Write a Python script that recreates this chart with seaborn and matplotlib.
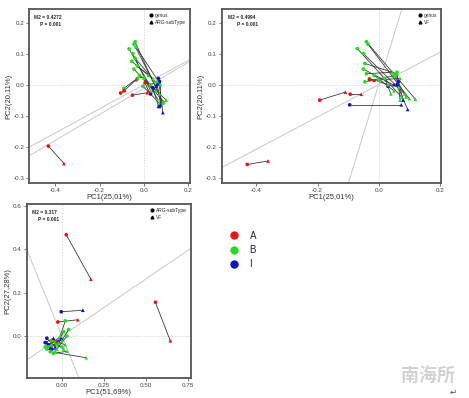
import numpy as np
import pandas as pd
import matplotlib
matplotlib.use("Agg")
import matplotlib.pyplot as plt
import seaborn as sns
from matplotlib.lines import Line2D

# ---------------- data ----------------
group_names = ["A", "B", "I"]
group_colors = {"A": "#ee1111", "B": "#22dd22", "I": "#1111cc"}

# panel 1: genus (circle) vs ARG-subType (triangle)
p1_x1 = [-0.067, -0.040, -0.045, -0.035, -0.050, -0.040, -0.055, -0.030, -0.045, -0.020, -0.030, 0.000, -0.090, -0.005, 0.030,
         0.060, 0.065, 0.040, 0.030, 0.070,
         -0.430, -0.090, -0.052, 0.005, -0.105]
p1_y1 = [0.115, 0.138, 0.130, 0.120, 0.100, 0.085, 0.075, 0.060, 0.050, 0.030, 0.020, 0.020, -0.012, -0.005, 0.000,
         0.000, 0.020, -0.010, -0.030, 0.010,
         -0.198, -0.020, -0.034, 0.006, -0.027]
p1_x2 = [0.060, 0.085, 0.070, 0.075, 0.030, 0.050, 0.020, 0.040, 0.090, 0.055, 0.000, 0.100, -0.030, 0.070, 0.060,
         0.075, 0.085, 0.065, 0.055, 0.070,
         -0.360, -0.035, 0.015, 0.020, -0.088]
p1_y2 = [-0.045, -0.060, -0.030, 0.000, -0.020, 0.010, 0.030, 0.020, -0.055, -0.020, 0.025, -0.050, 0.020, -0.060, 0.010,
         -0.065, -0.090, -0.070, -0.005, -0.070,
         -0.254, 0.016, -0.026, -0.020, -0.018]
p1_grp = ["B"] * 15 + ["I"] * 5 + ["A"] * 5

# panel 2: genus (circle) vs VF (triangle)
p2_x1 = [-0.040, -0.035, -0.070, -0.050, -0.045, -0.050, -0.045, -0.030, -0.015, 0.000, -0.040, 0.020, 0.060, 0.050,
         -0.095, 0.060, 0.065, 0.030,
         -0.193, -0.093, -0.430, -0.030]
p2_y1 = [0.138, 0.130, 0.116, 0.100, 0.068, 0.050, 0.009, 0.020, 0.030, 0.015, 0.035, 0.020, 0.040, 0.030,
         -0.065, 0.000, 0.010, -0.005,
         -0.050, -0.031, -0.257, 0.016]
p2_x2 = [0.120, 0.100, 0.075, 0.085, 0.060, 0.065, 0.055, 0.030, 0.050, 0.070, 0.045, 0.040, 0.070, 0.090,
         0.074, 0.095, 0.080, 0.050,
         -0.109, -0.057, -0.362, -0.015]
p2_y2 = [-0.047, -0.045, -0.040, -0.030, 0.035, -0.010, 0.030, 0.000, -0.020, 0.020, 0.040, -0.030, -0.050, -0.040,
         -0.065, -0.080, -0.050, 0.000,
         -0.024, -0.031, -0.246, 0.014]
p2_grp = ["B"] * 14 + ["I"] * 4 + ["A"] * 4

# panel 3: ARG-subType (circle) vs VF (triangle)
p3_x1 = [0.026, 0.558, -0.024, -0.020,
         -0.004, -0.090, -0.080, -0.060, -0.005, -0.100,
         -0.070, 0.020, 0.040, 0.010, -0.050, -0.080, -0.060, -0.090, 0.000, 0.030, -0.100, -0.040]
p3_y1 = [0.467, 0.156, 0.065, -0.030,
         0.112, -0.010, -0.040, -0.060, -0.015, -0.030,
         -0.072, 0.070, 0.030, 0.020, -0.080, -0.050, -0.020, -0.060, -0.050, 0.000, -0.050, -0.030]
p3_x2 = [0.173, 0.647, 0.095, -0.030,
         0.125, -0.040, -0.020, -0.090, -0.070, -0.050,
         0.145, -0.010, 0.000, -0.030, 0.030, -0.020, 0.020, -0.030, -0.060, -0.040, -0.020, 0.010]
p3_y2 = [0.262, -0.022, 0.075, -0.025,
         0.119, -0.050, -0.020, -0.030, -0.055, -0.010,
         -0.100, 0.000, -0.020, -0.040, -0.070, -0.030, -0.040, -0.060, -0.040, -0.070, -0.010, -0.060]
p3_grp = ["A"] * 4 + ["I"] * 6 + ["B"] * 12

panels = [
    dict(x1=p1_x1, y1=p1_y1, x2=p1_x2, y2=p1_y2, grp=p1_grp,
         names=("genus", "ARG-subType"), m2="M2 = 0.4272", p="P = 0.001",
         xlabel="PC1(25,01%)", ylabel="PC2(20,11%)",
         xlim=(-0.517, 0.207), ylim=(-0.317, 0.243),
         xticks=[-0.4, -0.2, 0.0, 0.2], yticks=[-0.3, -0.2, -0.1, 0.0, 0.1, 0.2],
         xtl=["-0.4", "-0.2", "0.0", "0.2"], ytl=["-0.3", "-0.2", "-0.1", "0.0", "0.1", "0.2"],
         axes=[(0.39, 0.0), (0.42, -0.012)]),
    dict(x1=p2_x1, y1=p2_y1, x2=p2_x2, y2=p2_y2, grp=p2_grp,
         names=("genus", "VF"), m2="M2 = 0.4994", p="P = 0.001",
         xlabel="PC1(25,01%)", ylabel="PC2(20,11%)",
         xlim=(-0.513, 0.205), ylim=(-0.317, 0.243),
         xticks=[-0.4, -0.2, 0.0, 0.2], yticks=[-0.3, -0.2, -0.1, 0.0, 0.1, 0.2],
         xtl=["-0.4", "-0.2", "0.0", "0.2"], ytl=["-0.3", "-0.2", "-0.1", "0.0", "0.1", "0.2"],
         axes=[(0.52, 0.0), (3.2, 0.0)]),
    dict(x1=p3_x1, y1=p3_y1, x2=p3_x2, y2=p3_y2, grp=p3_grp,
         names=("ARG-subType", "VF"), m2="M2 = 0.317", p="P = 0.001",
         xlabel="PC1(51,69%)", ylabel="PC2(27,28%)",
         xlim=(-0.21, 0.77), ylim=(-0.192, 0.608),
         xticks=[0.0, 0.25, 0.5, 0.75], yticks=[0.0, 0.2, 0.4, 0.6],
         xtl=["0.00", "0.25", "0.50", "0.75"], ytl=["0.0", "0.2", "0.4", "0.6"],
         axes=[(0.525, 0.0), (-1.9, 0.0)]),
]

sns.set_style("white")
plt.rcParams["font.family"] = ["Liberation Sans", "DejaVu Sans"]

fig = plt.figure(figsize=(4.69, 3.98), dpi=100)
positions = [
    [0.062, 0.540, 0.343, 0.437],
    [0.473, 0.540, 0.468, 0.437],
    [0.057, 0.051, 0.350, 0.436],
]

for pos, d in zip(positions, panels):
    ax = fig.add_axes(pos)
    # reference lines
    ax.axhline(0, color="#cccccc", lw=0.5, ls=(0, (2, 2)), zorder=0)
    ax.axvline(0, color="#cccccc", lw=0.5, ls=(0, (2, 2)), zorder=0)
    for slope, off in d["axes"]:
        ax.axline((0, off), slope=slope, color="#c8c8c8", lw=0.7, zorder=0)

    # connecting segments
    for a, b, c, e in zip(d["x1"], d["y1"], d["x2"], d["y2"]):
        ax.plot([a, c], [b, e], color="#3a3a3a", lw=0.6, zorder=1)

    df = pd.concat([
        pd.DataFrame({"x": d["x1"], "y": d["y1"], "grp": d["grp"], "set": d["names"][0]}),
        pd.DataFrame({"x": d["x2"], "y": d["y2"], "grp": d["grp"], "set": d["names"][1]}),
    ])
    sns.scatterplot(data=df, x="x", y="y", hue="grp", style="set",
                    markers={d["names"][0]: "o", d["names"][1]: "^"},
                    palette=group_colors, s=7, linewidth=0, legend=False, ax=ax, zorder=2)

    ax.set_xlim(*d["xlim"])
    ax.set_ylim(*d["ylim"])
    ax.set_xticks(d["xticks"])
    ax.set_yticks(d["yticks"])
    ax.set_xticklabels(d["xtl"])
    ax.set_yticklabels(d["ytl"])
    ax.tick_params(labelsize=4.5, length=2, width=0.5, pad=1.5, colors="#444444",
                   left=True, bottom=True)
    ax.set_xlabel(d["xlabel"], fontsize=5.5, labelpad=1, color="#333333")
    ax.set_ylabel(d["ylabel"], fontsize=5.5, labelpad=1, color="#333333")
    for sp in ax.spines.values():
        sp.set_color("#555555")
        sp.set_linewidth(1.3)

    ax.text(0.03, 0.965, d["m2"], transform=ax.transAxes, fontsize=3.5,
            fontweight="bold", va="top", ha="left")
    ax.text(0.07, 0.925, d["p"], transform=ax.transAxes, fontsize=3.5,
            fontweight="bold", va="top", ha="left")

    handles = [Line2D([], [], marker="o", ls="", color="black", ms=2),
               Line2D([], [], marker="^", ls="", color="black", ms=2)]
    ax.legend(handles, list(d["names"]), loc="upper right", frameon=False,
              fontsize=3.5, handletextpad=0.3, borderaxespad=0.4,
              labelspacing=0.3, handlelength=1)

# group legend
gax = fig.add_axes([0.47, 0.28, 0.2, 0.15])
gax.axis("off")
gh = [Line2D([], [], marker="o", ls="", color=group_colors[g], ms=5) for g in group_names]
gax.legend(gh, group_names, loc="upper left", frameon=False, fontsize=7,
           handletextpad=0.6, labelspacing=0.45, borderaxespad=0)

# watermark
fig.text(0.855, 0.055, "南海所", fontsize=13, color="#d2d2d2", fontweight="bold",
         family=["Noto Sans CJK SC", "DejaVu Sans"], ha="left", va="center", style="italic")
fig.text(0.965, 0.012, "↵", fontsize=6, color="#444444", ha="center", va="center")

fig.savefig("out.png", dpi=100)
